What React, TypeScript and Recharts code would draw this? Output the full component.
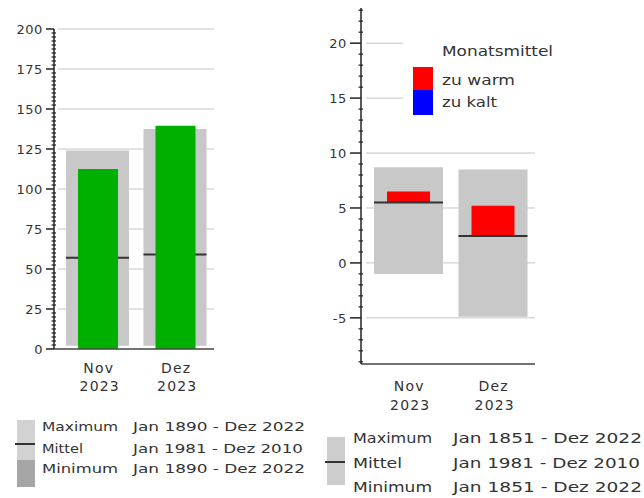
import React from 'react';
import { ComposedChart, Bar, XAxis, YAxis, CartesianGrid } from 'recharts';

const months = ['Nov', 'Dez'];
const years = ['2023', '2023'];

// Niederschlag (mm)
const precipMin = [2, 2];
const precipMax = [124, 137.5];
const precipMean = [57, 59];
const precipActual = [112.5, 139.5];
const precipTicks = [0, 25, 50, 75, 100, 125, 150, 175, 200];
const precipMinorStep = 2.5;

// Temperatur (°C)
const tempMin = [-1.0, -4.9];
const tempMax = [8.7, 8.5];
const tempMean = [5.5, 2.45];
const tempActual = [6.5, 5.2];
const tempTicks = [-5, 0, 5, 10, 15, 20];
const tempMinorStep = 1;

const precipMinor = Array.from({ length: 81 }, (_, i) => i * precipMinorStep);
const tempMinor = Array.from({ length: 33 }, (_, i) => -9 + i * tempMinorStep);

const precipData = months.map((m, i) => ({
  month: m,
  range: [precipMin[i], precipMax[i]],
  mean: precipMean[i],
  actual: precipActual[i],
}));

const tempData = months.map((m, i) => ({
  month: m,
  range: [tempMin[i], tempMax[i]],
  mean: tempMean[i],
  warm: tempActual[i] >= tempMean[i] ? [tempMean[i], tempActual[i]] : null,
  cold: tempActual[i] < tempMean[i] ? [tempActual[i], tempMean[i]] : null,
}));

const FONT = '"DejaVu Sans", sans-serif';
const TXT = '#333';

const makeYTick = (majors: number[], len: number) => (props: any) => {
  const { x, y, payload } = props;
  const v = payload.value;
  const major = majors.indexOf(v) >= 0;
  return (
    <g>
      {major ? (
        <line x1={x - len} x2={x} y1={y} y2={y} stroke="#222" strokeWidth={1.5} />
      ) : (
        <line x1={x - 2.5} x2={x + 2} y1={y} y2={y} stroke="#222" strokeWidth={1.2} />
      )}
      {major && (
        <text x={x - len - 3} y={y} dy="0.36em" textAnchor="end" fontFamily={FONT} fontSize={13} letterSpacing={0.6} fill={TXT}>
          {v}
        </text>
      )}
    </g>
  );
};

const makeXTick = (d1: number, d2: number) => (props: any) => {
  const { x, y, payload, index } = props;
  return (
    <text x={x + 1} y={y + d1} textAnchor="middle" fontFamily={FONT} fontSize={14} letterSpacing={1.2} fill={TXT}>
      <tspan x={x + 1}>{payload.value}</tspan>
      <tspan x={x + 2} dy={d2}>{years[index]}</tspan>
    </text>
  );
};

const MeanLine = (props: any) => {
  const { x, y, width } = props;
  if (x == null || y == null) return null;
  return <line x1={x} x2={x + width} y1={y} y2={y} stroke="#333" strokeWidth={2} />;
};

const gridLine = (gap: number) => (props: any) => {
  const { x1, x2, y1, y2, key } = props;
  return <line key={key} x1={x1 + gap} x2={x2} y1={y1} y2={y2} stroke="#c6c6c6" strokeWidth={1} />;
};

function PrecipChart() {
  return (
    <ComposedChart width={230} height={410} data={precipData} margin={{ top: 29, right: 16, bottom: 21, left: 0 }}>
      <CartesianGrid vertical={false} horizontalValues={precipTicks.slice(1)} horizontal={gridLine(4)} />
      <XAxis xAxisId="a" dataKey="month" padding={{ left: 5, right: 0 }} height={40} tickSize={0} tickMargin={0}
        tickLine={false} axisLine={{ stroke: '#444', strokeWidth: 1.5 }} tick={makeXTick(24, 18)} interval={0} />
      <XAxis xAxisId="b" dataKey="month" padding={{ left: 5, right: 0 }} hide />
      <XAxis xAxisId="c" dataKey="month" padding={{ left: 5, right: 0 }} hide />
      <YAxis domain={[0, 200]} ticks={precipMinor} interval={0} width={54} tickSize={0} tickMargin={0}
        tickLine={false} axisLine={{ stroke: '#222', strokeWidth: 1.5 }} tick={makeYTick(precipTicks, 8)} />
      <Bar xAxisId="a" dataKey="range" barSize={63} fill="#c8c8c8" isAnimationActive={false} />
      <Bar xAxisId="c" dataKey="mean" barSize={63} shape={MeanLine} isAnimationActive={false} />
      <Bar xAxisId="b" dataKey="actual" barSize={40} fill="#00b000" isAnimationActive={false} />
    </ComposedChart>
  );
}

function TempChart() {
  return (
    <ComposedChart width={250} height={420} data={tempData} margin={{ top: 8, right: 15, bottom: 16, left: 0 }}>
      <CartesianGrid vertical={false} horizontalValues={tempTicks} horizontal={gridLine(5)} />
      <XAxis xAxisId="a" dataKey="month" padding={{ left: 5, right: 0 }} height={40} tickSize={0} tickMargin={0}
        tickLine={false} axisLine={{ stroke: '#444', strokeWidth: 1.5 }} tick={makeXTick(27, 19)} interval={0} />
      <XAxis xAxisId="b" dataKey="month" padding={{ left: 5, right: 0 }} hide />
      <XAxis xAxisId="c" dataKey="month" padding={{ left: 5, right: 0 }} hide />
      <XAxis xAxisId="d" dataKey="month" padding={{ left: 5, right: 0 }} hide />
      <YAxis domain={[-9.2, 23.2]} ticks={tempMinor} interval={0} width={61} tickSize={0} tickMargin={0}
        tickLine={false} axisLine={{ stroke: '#222', strokeWidth: 1.5 }} tick={makeYTick(tempTicks, 11)} />
      <Bar xAxisId="a" dataKey="range" barSize={69} fill="#c8c8c8" isAnimationActive={false} />
      <Bar xAxisId="b" dataKey="warm" barSize={43} fill="#ff0000" isAnimationActive={false} />
      <Bar xAxisId="d" dataKey="cold" barSize={43} fill="#0000ff" isAnimationActive={false} />
      <Bar xAxisId="c" dataKey="mean" barSize={69} shape={MeanLine} isAnimationActive={false} />
    </ComposedChart>
  );
}

const LT = ({ x, y, w, s, children }: any) => (
  <text x={x} y={y} fontFamily={FONT} fontSize={s} fill={TXT} textLength={w} lengthAdjust="spacingAndGlyphs">
    {children}
  </text>
);

function Legends() {
  return (
    <svg width={644} height={498} style={{ position: 'absolute', left: 0, top: 0, pointerEvents: 'none' }}>
      {/* top right legend */}
      <rect x={403} y={34} width={160} height={86} fill="#fff" />
      <LT x={442} y={56} w={111} s={13.5}>Monatsmittel</LT>
      <rect x={413} y={67} width={20} height={23} fill="#ff0000" />
      <rect x={413} y={90} width={20} height={25} fill="#0000ff" />
      <LT x={442} y={85} w={73} s={13.5}>zu warm</LT>
      <LT x={442} y={107} w={55} s={13.5}>zu kalt</LT>

      {/* bottom left legend */}
      <rect x={17} y={420} width={18} height={40} fill="#d2d2d2" />
      <rect x={17} y={460} width={18} height={27} fill="#a6a6a6" />
      <line x1={15} x2={35} y1={444} y2={444} stroke="#333" strokeWidth={2} />
      <LT x={42} y={431} w={76} s={13}>Maximum</LT>
      <LT x={42} y={453} w={41} s={13}>Mittel</LT>
      <LT x={42} y={473} w={76} s={13}>Minimum</LT>
      <LT x={133} y={431} w={172} s={13}>Jan 1890 - Dez 2022</LT>
      <LT x={133} y={453} w={170} s={13}>Jan 1981 - Dez 2010</LT>
      <LT x={133} y={473} w={172} s={13}>Jan 1890 - Dez 2022</LT>

      {/* bottom right legend */}
      <rect x={327} y={437} width={18} height={48} fill="#cdcdcd" />
      <line x1={325} x2={345} y1={462} y2={462} stroke="#333" strokeWidth={2} />
      <LT x={353} y={443} w={79} s={14}>Maximum</LT>
      <LT x={353} y={468} w={49} s={14}>Mittel</LT>
      <LT x={353} y={492} w={79} s={14}>Minimum</LT>
      <LT x={453} y={443} w={189} s={14}>Jan 1851 - Dez 2022</LT>
      <LT x={453} y={468} w={187} s={14}>Jan 1981 - Dez 2010</LT>
      <LT x={453} y={492} w={189} s={14}>Jan 1851 - Dez 2022</LT>
    </svg>
  );
}

export default function App() {
  return (
    <div style={{ position: 'absolute', left: 0, top: 0, width: 644, height: 498, background: '#fff', overflow: 'hidden' }}>
      <div style={{ position: 'absolute', left: 0, top: 0 }}>
        <PrecipChart />
      </div>
      <div style={{ position: 'absolute', left: 300, top: 0 }}>
        <TempChart />
      </div>
      <Legends />
    </div>
  );
}
